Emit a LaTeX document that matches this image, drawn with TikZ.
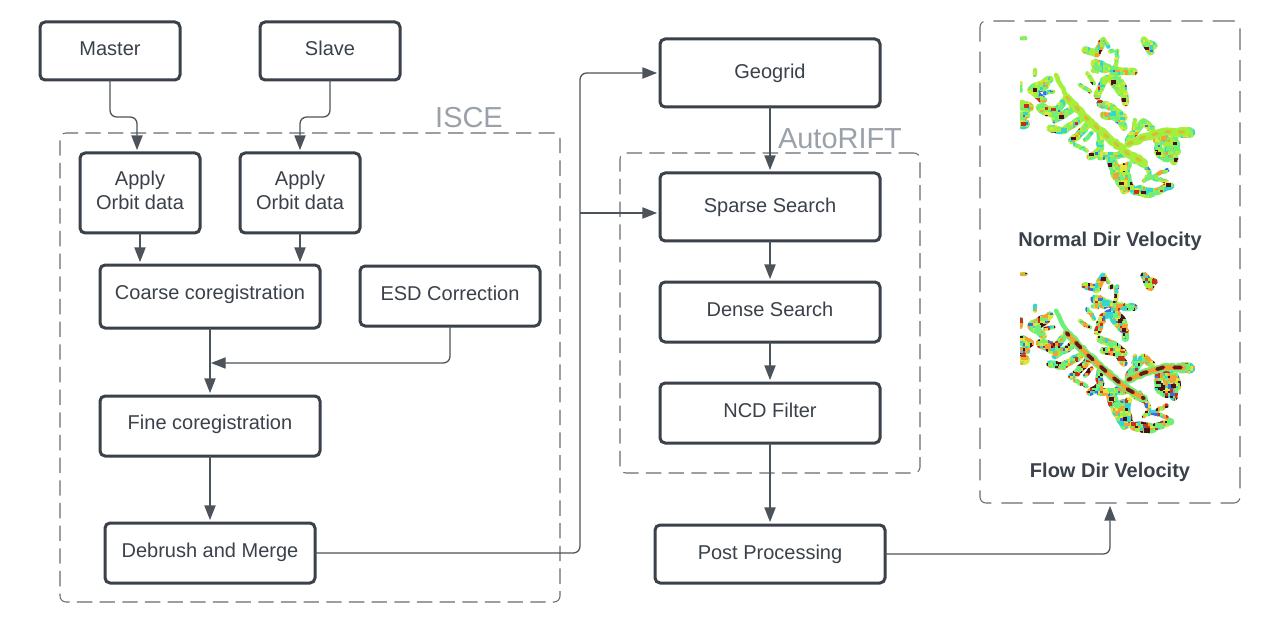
\documentclass[tikz,border=0pt]{standalone}
\usepackage{fontspec}
\setmainfont{Liberation Sans}
\usetikzlibrary{arrows.meta,calc,decorations.pathmorphing}
\definecolor{ink}{HTML}{3A414A}
\definecolor{wire}{HTML}{4C535B}
\definecolor{dashc}{HTML}{666C74}
\definecolor{lbl}{HTML}{9AA1A9}
\definecolor{glime}{HTML}{A6EE3C}
\definecolor{ggreen}{HTML}{6CF07A}
\definecolor{gcyan}{HTML}{35D6D0}
\definecolor{gblue}{HTML}{3A6FE0}
\definecolor{gyellow}{HTML}{E4E43A}
\definecolor{gorange}{HTML}{F5A030}
\definecolor{gred}{HTML}{C8301A}
\definecolor{gdark}{HTML}{4A0F18}
\tikzset{
  box/.style={draw=ink,line width=2.25pt,rounded corners=3.8pt,fill=white,inner sep=0pt,outer sep=0pt,text=ink,font=\fontsize{15}{18}\selectfont},
  oneline/.style={text height=10.7pt,text depth=3.3pt},
  wirec/.style={draw=wire,line width=.95pt,rounded corners=5pt,-{Triangle[length=11pt,width=8.4pt]},shorten >=2.2pt},
  dashbox/.style={draw=dashc,line width=.8pt,rounded corners=4.5pt,inner sep=0pt,outer sep=0pt},
  grouplabel/.style={text=lbl,font=\fontsize{21.7}{24}\selectfont,inner sep=0pt},
  caption/.style={text=ink,font=\fontsize{15}{18}\selectfont\bfseries,inner sep=0pt},
  rough/.style={decorate,decoration={random steps,segment length=2.2pt,amplitude=.7pt}},
}
\newcommand\bx[7]{\node[box,oneline,minimum width=#4*.75pt,minimum height=#5*.75pt] (#1) at (#2,#3) {\raisebox{#6pt}{#7}};}
\newcommand\applybx[3]{\node[box,minimum width=90pt,minimum height=60pt] (#1) at (#2,#3) {\raisebox{2.2pt}{\begin{tabular}{@{}c@{}}Apply\\Orbit data\end{tabular}}};}
% glacier outlines, in 3x local coordinates
\newcommand\gTrunk[1]{\draw[line cap=round,line join=round,#1]
  (200,232)--(260,295)--(330,358)--(385,402)--(432,428)
  (385,372)--(430,352)--(490,335)--(560,336);}
\newcommand\gTrunkTip[1]{\draw[line cap=round,line join=round,#1]
  (168,165)--(185,200)--(205,238);}
\newcommand\gFat[1]{\draw[line cap=round,line join=round,#1]
  (125,265)--(175,285) (335,425)--(352,470) (500,360)--(520,412) (478,395)--(500,412)
  (415,512)--(452,518) (362,482)--(376,505) (340,178)--(365,215) (288,132)--(312,145)
  (64,255)--(85,262) (66,312)--(74,312) (100,208)--(135,192) (545,338)--(570,338)
  (370,445)--(382,490);}
\newcommand\gWide[1]{\draw[line cap=round,line join=round,#1]
  (215,268)--(165,300) (240,300)--(190,332)--(150,325) (262,315)--(232,350)--(215,362)
  (300,345)--(300,390)--(270,410)
  (385,402)--(330,408)--(300,410) (330,420)--(350,470)--(372,512)
  (385,435)--(368,480)--(400,512)--(450,522)--(512,498)
  (490,340)--(502,380)--(522,425) (522,345)--(532,395)
  (470,350)--(478,405) (385,360)--(430,305)--(455,325)
  (292,228)--(310,182)--(345,165)--(370,200)--(376,248)
  (300,250)--(340,265)--(372,292) (310,285)--(350,290)--(372,322)
  (282,130)--(340,150)--(402,155) (255,90)--(290,102)--(310,62)
  (432,60)--(452,95) (438,68)--(462,78)
  (150,178)--(92,210)--(130,240) (118,262)--(170,272)--(190,245)
  (62,252)--(92,262) (62,285)--(80,285) (62,312)--(78,312);}
\newcommand\gThin[1]{\draw[line cap=round,line join=round,#1]
  (275,338)--(255,360) (225,375)--(260,392) (432,482)--(502,450) (440,470)--(500,485)
  (400,345)--(405,300) (330,170)--(338,190) (352,92)--(345,140)
  (262,160)--(282,190) (240,195)--(270,215) (278,152)--(292,155) (135,220)--(160,215)
  (105,150)--(105,165) (65,55)--(76,55) (62,190)--(62,212) (320,70)--(325,80) (330,95)--(338,92)
  (395,420)--(440,440)--(452,470) (420,410)--(445,455) (430,305)--(440,320);}
\newcommand\blobs[2]{\foreach \bxa/\bxb in {#2} {\fill[#1] (\bxa-7,\bxb-5) rectangle +(14,11);}}
% pixel field: one colour per cell
\newcommand\pickTop{\ifnum\rr<34 \def\cc{glime}\else\ifnum\rr<64 \def\cc{ggreen}\else\ifnum\rr<78 \def\cc{gcyan}\else\ifnum\rr<88 \def\cc{gyellow}\else\ifnum\rr<95 \def\cc{gorange}\else\ifnum\rr<98 \def\cc{gblue}\else\ifnum\rr<99 \def\cc{gred}\else\def\cc{gdark}\fi\fi\fi\fi\fi\fi\fi}
\newcommand\pickLow{\ifnum\rr<12 \def\cc{glime}\else\ifnum\rr<38 \def\cc{ggreen}\else\ifnum\rr<50 \def\cc{gcyan}\else\ifnum\rr<60 \def\cc{gyellow}\else\ifnum\rr<78 \def\cc{gorange}\else\ifnum\rr<83 \def\cc{gblue}\else\ifnum\rr<92 \def\cc{gred}\else\def\cc{gdark}\fi\fi\fi\fi\fi\fi\fi}
\newcommand\pixelfield[1]{%
  \foreach \gx in {60,67.5,...,592.5}{\foreach \gy in {45,52.5,...,532.5}{%
    \pgfmathrandominteger{\rr}{0}{99}#1\fill[\cc] (\gx,\gy) rectangle +(8,8);}}%
  \foreach \gi in {1,...,220}{%
    \pgfmathrandominteger{\rr}{0}{99}#1\pgfmathrandominteger{\gx}{60}{585}\pgfmathrandominteger{\gy}{45}{525}%
    \fill[\cc] (\gx,\gy) rectangle +(20,16);}}
\newcommand\glaciermask{%
  \begin{scope}[blend mode=screen]\begin{scope}[transparency group]
  \fill[white] (50,35) rectangle (610,550);
  \gFat{black,line width=8pt,rough}
  \gWide{black,line width=5.6pt,rough}
  \gThin{black,line width=3.2pt,rough}
  \end{scope}\end{scope}}
\begin{document}
\begin{tikzpicture}[x=.75pt,y=-.75pt]
\useasboundingbox (0,0) rectangle (1280,620);
\fill[white] (0,0) rectangle (1280,620);
\pgfmathsetseed{4242}

% upper glacier
\begin{scope}[shift={(1000,20)},scale=1/3]
\pixelfield{\pickTop}
\blobs{gdark}{340/185,375/175,105/210,185/290,220/355,275/403,330/435,365/490,430/517,475/400,525/370,530/420,305/95,440/85,505/495,370/240,160/340}
\blobs{gred}{70/312,160/268,410/515,80/258}
\glaciermask
\gTrunkTip{draw=glime,line width=3.4pt,rough}
\gTrunk{draw=glime,line width=6pt,rough}
\gTrunk{draw=gorange!60!glime,line width=2.4pt,dash pattern=on 3pt off 7pt}
\end{scope}

% lower glacier
\begin{scope}[shift={(1000,255.7)},scale=1/3]
\pixelfield{\pickLow}
\blobs{gdark}{310/70,345/120,360/195,372/222,370/275,440/430,280/390,335/430,475/380,505/340,430/500,375/490,520/390,130/210,175/318}
\blobs{gred}{70/298,150/250,200/215,270/290,400/505,505/480,330/445}
\glaciermask
\gTrunkTip{draw=ggreen,line width=3.4pt,rough}
\gTrunk{draw=ggreen,line width=6pt,rough}
\gTrunk{draw=gorange,line width=3.6pt,dash pattern=on 4pt off 2.5pt}
\gTrunk{draw=gdark!75!gred,line width=2.8pt,dash pattern=on 5pt off 8pt,dash phase=3pt}
\end{scope}

% group frames
\node[dashbox,dash pattern=on 11.5pt off 5.5pt,minimum width=375pt,minimum height=351.75pt] (isce) at (310,367.5) {};
\node[dashbox,dash pattern=on 11.5pt off 5.5pt,minimum width=225pt,minimum height=240pt] (auto) at (770,313) {};
\node[dashbox,dash pattern=on 16pt off 7.5pt,minimum width=195pt,minimum height=361.5pt] (result) at (1110,262) {};
\node[grouplabel] (iscelabel) at (469,118) {ISCE};
\node[grouplabel] (autolabel) at (840,138.5) {AutoRIFT};

\node[caption] (normalcap) at (1110,241) {Normal Dir Velocity};
\node[caption] (flowcap) at (1110,472) {Flow Dir Velocity};

% process boxes
\bx{master}{110}{51}{140}{58}{0.1}{Master}
\bx{slave}{330}{51}{140}{58}{0.1}{Slave}
\applybx{applya}{140}{193}
\applybx{applyb}{300}{193}
\bx{coarse}{210}{296.5}{220}{63}{1.1}{Coarse coregistration}
\bx{esd}{450}{296}{180}{60}{0.1}{ESD Correction}
\bx{fine}{210}{426}{220}{60}{1.1}{Fine coregistration}
\bx{debrush}{210}{553}{210}{60}{0.1}{Debrush and Merge}
\bx{geogrid}{770}{73}{220}{68}{-0.6}{Geogrid}
\bx{sparse}{770}{207}{220}{68}{-0.6}{Sparse Search}
\bx{dense}{770}{312}{220}{60}{0.1}{Dense Search}
\bx{ncd}{770}{413}{220}{60}{0.1}{NCD Filter}
\bx{post}{770}{554}{230}{58}{-0.6}{Post Processing}

% routing points
\coordinate (mastertip) at ($(applya.north)+(-3,0)$);
\coordinate (masterbend) at (110,117);
\coordinate (slavebend) at (330,117);
\coordinate (esdjoin) at (211,363);
\coordinate (riser) at (580,213);
\coordinate (sparsein) at (sparse.west |- riser);

% connectors
\draw[wirec] (master.south) |- (masterbend -| mastertip) -- (mastertip);
\draw[wirec] (slave.south) |- (slavebend -| applyb.north) -- (applyb.north);
\draw[wirec] (applya.south) -- (applya.south |- coarse.north);
\draw[wirec] (applyb.south) -- (applyb.south |- coarse.north);
\draw[wirec] (coarse.south) -- (fine.north);
\draw[wirec,shorten >=0pt] (esd.south) |- (esdjoin);
\draw[wirec] (fine.south) -- (debrush.north);
\draw[wirec] (debrush.east) -| (riser |- geogrid.west) -- (geogrid.west);
\draw[wirec] (riser) -- (sparsein);
\draw[wirec] (geogrid.south) -- (sparse.north);
\draw[wirec] (sparse.south) -- (dense.north);
\draw[wirec] (dense.south) -- (ncd.north);
\draw[wirec] (ncd.south) -- (post.north);
\draw[wirec] (post.east) -| (result.south);
\end{tikzpicture}
\end{document}
